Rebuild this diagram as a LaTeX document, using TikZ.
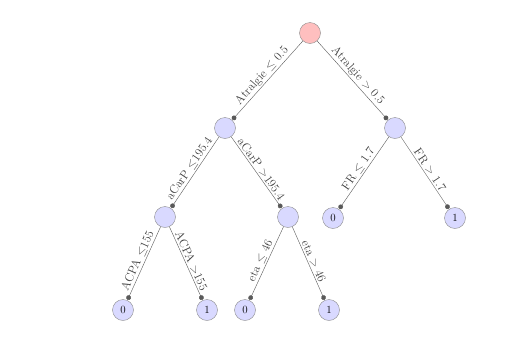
\documentclass[tikz,border=0pt]{standalone}
\usepackage{amssymb}
\usetikzlibrary{positioning, arrows}

\tikzset{
  split/.style={circle,draw=black!45,fill=blue!15,minimum size=21pt,inner sep=0pt,font=\fontsize{11}{12}\selectfont},
  top/.style={split,fill=red!25},
  branch/.style={draw=black!65,-*,shorten >=0.5pt},
  cond/.style={sloped,above,inner sep=1.5pt,text=black!75,font=\fontsize{12}{14}\selectfont}
}

\begin{document}
\begin{tikzpicture}[x=1pt,y=-1pt]
  \useasboundingbox (0,0) rectangle (528,354);
  % nodes
  \node [top] (r) at (310,33) {};
  \node [split] (a) at (225,128) {};
  \node [split] (b) at (395,128) {};
  \node [split] (c) at (165,217) {};
  \node [split] (d) at (288,217) {};
  \node [split] (e) at (333,218) {0};
  \node [split] (f) at (455,218) {1};
  \node [split] (c1) at (123,310) {0};
  \node [split] (c2) at (207,310) {1};
  \node [split] (d1) at (245,310) {0};
  \node [split] (d2) at (329,310) {1};
  % branches
  \draw [branch] (r) -- node [cond] {Atralgie $\leq$ 0.5} (a);
  \draw [branch] (r) -- node [cond] {Atralgie $>$ 0.5} (b);
  \draw [branch] (a) -- node [cond] {aCarP $\leq$195.4} (c);
  \draw [branch] (a) -- node [cond] {aCarP $>$195.4} (d);
  \draw [branch] (b) -- node [cond] {FR $\leq$ 1.7} (e);
  \draw [branch] (b) -- node [cond] {FR $>$ 1.7} (f);
  \draw [branch] (c) -- node [cond] {ACPA $\leq$155} (c1);
  \draw [branch] (c) -- node [cond] {ACPA $>$155} (c2);
  \draw [branch] (d) -- node [cond] {eta $\leq$ 46} (d1);
  \draw [branch] (d) -- node [cond] {eta $>$ 46} (d2);
\end{tikzpicture}
\end{document}
